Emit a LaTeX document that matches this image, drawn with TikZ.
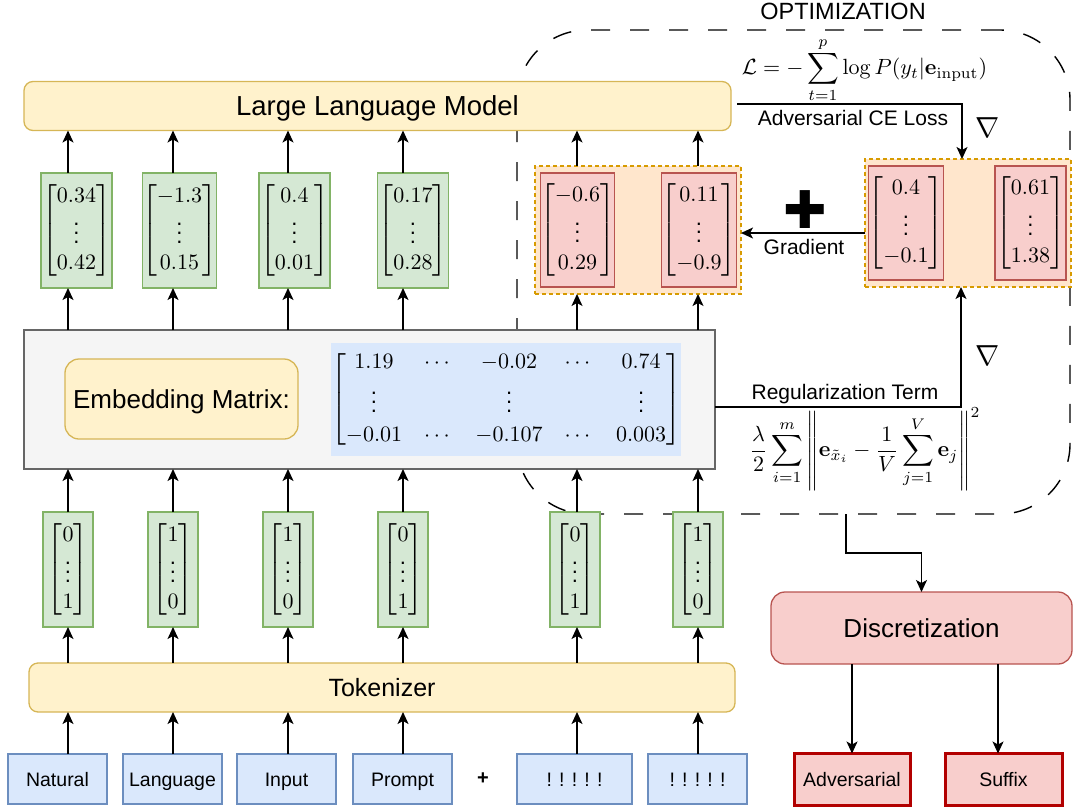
\documentclass[tikz,border=0pt]{standalone}
\usepackage[no-math]{fontspec}
\setmainfont{Liberation Sans}
\newfontfamily\dejavu{DejaVu Sans}
\usepackage{amsmath}
\usepackage{graphicx}
\usetikzlibrary{arrows.meta,calc}
\definecolor{yfill}{HTML}{FFF2CC}
\definecolor{ystroke}{HTML}{D6B656}
\definecolor{gfill}{HTML}{D5E8D4}
\definecolor{gstroke}{HTML}{82B366}
\definecolor{bfill}{HTML}{DAE8FC}
\definecolor{bstroke}{HTML}{6C8EBF}
\definecolor{rfill}{HTML}{F8CECC}
\definecolor{rstroke}{HTML}{B85450}
\definecolor{ofill}{HTML}{FFE6CC}
\definecolor{ostroke}{HTML}{D79B00}
\definecolor{efill}{HTML}{F5F5F5}
\definecolor{estroke}{HTML}{666666}
\definecolor{darkred}{HTML}{B20000}
\newcommand{\mv}[2]{\scalebox{2.2}{$\begin{bmatrix}#1\\ \vdots\\ #2\end{bmatrix}$}}
\newcommand{\fs}[1]{\fontsize{#1}{#1}\selectfont}
\begin{document}
\begin{tikzpicture}[x=1pt,y=-1pt,
  every node/.style={inner sep=0pt, outer sep=0pt},
  arr/.style={-{Stealth[length=12pt,width=11pt,inset=3pt]}, line width=1.3pt, black},
  ybox/.style={draw=ystroke, fill=yfill, line width=1.3pt, rounded corners=9pt},
  gvec/.style={draw=gstroke, fill=gfill, line width=1.3pt, minimum width=71pt, minimum height=115pt},
  ghot/.style={draw=gstroke, fill=gfill, line width=1.3pt, minimum width=50pt, minimum height=115pt},
  rvec/.style={draw=rstroke, fill=rfill, line width=1.3pt, minimum width=71pt, minimum height=114pt},
  ocont/.style={draw=ostroke, fill=ofill, line width=1.3pt, dash pattern=on 4pt off 3pt, minimum width=206pt, minimum height=128pt},
  inbox/.style={draw=bstroke, fill=bfill, line width=1.3pt, minimum height=50pt, font=\fs{19.5}, text height=14pt, text depth=0pt},
  outbox/.style={draw=darkred, fill=rfill, line width=3pt, minimum height=52pt, font=\fs{19.5}, text height=14pt, text depth=0pt},
  lbl/.style={font=\fs{21}, text height=15pt, text depth=0pt}
]
\useasboundingbox (0,0) rectangle (1073,809);

% optimization region
\node[draw, line width=1.4pt, dash pattern=on 19pt off 20pt, rounded corners=70pt,
      minimum width=553pt, minimum height=484pt] (opt) at (793.5,272) {};
\node[font=\fs{23.5}, text height=17pt, text depth=0pt] (optlbl) at (843,11) {OPTIMIZATION};

% column coordinates
\coordinate (c1) at (68,0);
\coordinate (c2) at (173,0);
\coordinate (c3) at (288,0);
\coordinate (c4) at (403,0);
\coordinate (c5) at (577,0);
\coordinate (c6) at (698,0);

% LLM
\node[ybox, minimum width=707pt, minimum height=49pt, font=\fs{27.5}, text height=19.7pt, text depth=0pt] (llm) at (377.5,106) {Large Language Model};

% top vectors
\node[gvec] (tv1) at (76.5,230.5) {\mv{0.34}{0.42}};
\node[gvec] (tv2) at (179.5,230.5) {\mv{-1.3}{0.15}};
\node[gvec] (tv3) at (294.5,230.5) {\mv{0.4}{0.01}};
\node[gvec] (tv4) at (413,230.5) {\mv{0.17}{0.28}};

% orange containers
\node[ocont] (orl) at (638,230) {};
\node[rvec] (rv1) at (577.5,230) {\mv{-0.6}{0.29}};
\node[rvec] (rv2) at (699,230) {\mv{0.11}{-0.9}};
\node[ocont] (orr) at (968,223) {};
\node[rvec] (rv3) at (906,223) {\mv{0.4}{-0.1}};
\node[rvec] (rv4) at (1030.5,223) {\mv{0.61}{1.38}};

% embedding
\node[draw=estroke, fill=efill, line width=1.3pt, minimum width=691pt, minimum height=139pt] (emb) at (369.5,399.5) {};
\node[ybox, rounded corners=14pt, minimum width=233pt, minimum height=80pt, font=\fs{26}, text height=18.6pt, text depth=0pt] (emblbl) at (181.5,399) {Embedding Matrix:};
\node[fill=bfill, minimum width=346pt, minimum height=113pt] (mat) at (506,399.5)
  {\scalebox{2.2}{$\begin{bmatrix} 1.19 & \cdots & -0.02 & \cdots & 0.74\\[1.2pt] \vdots & & \vdots & & \vdots\\[1.2pt] -0.01 & \cdots & -0.107 & \cdots & 0.003 \end{bmatrix}$}};

% one-hot vectors
\node[ghot] (h1) at (68,569.5) {\mv{0}{1}};
\node[ghot] (h2) at (173,569.5) {\mv{1}{0}};
\node[ghot] (h3) at (288,569.5) {\mv{1}{0}};
\node[ghot] (h4) at (403,569.5) {\mv{0}{1}};
\node[ghot] (h5) at (575,569.5) {\mv{0}{1}};
\node[ghot] (h6) at (698,569.5) {\mv{1}{0}};

% tokenizer
\node[ybox, minimum width=706pt, minimum height=49pt, font=\fs{25}, text height=18pt, text depth=0pt] (tok) at (382,687.5) {Tokenizer};

% inputs
\node[inbox, minimum width=99pt] (i1) at (57.5,779) {Natural};
\node[inbox, minimum width=99pt] (i2) at (172.5,779) {Language};
\node[inbox, minimum width=99pt] (i3) at (286.5,779) {Input};
\node[inbox, minimum width=99pt] (i4) at (402.5,779) {Prompt};
\node[font=\fs{20}\bfseries] (plus) at (483,779) {+};
\node[inbox, minimum width=115pt] (i5) at (574.5,779) {! ! ! ! !};
\node[inbox, minimum width=99pt] (i6) at (697.5,779) {! ! ! ! !};

% discretization
\node[draw=rstroke, fill=rfill, line width=1.3pt, rounded corners=14pt, minimum width=301pt, minimum height=72pt, font=\fs{26}, text height=18.6pt, text depth=0pt] (disc) at (921.5,628) {Discretization};
\node[outbox, minimum width=116pt] (adv) at (852,779.5) {Adversarial};
\node[outbox, minimum width=117pt] (suf) at (1003.5,779.5) {Suffix};

% arrows: inputs -> tokenizer -> one-hot -> embedding
\foreach \i/\c in {1/c1,2/c2,3/c3,4/c4,5/c5,6/c6}{
  \draw[arr] (\c |- i\i.north) -- (\c |- tok.south);
  \draw[arr] (\c |- tok.north) -- (\c |- h\i.south);
  \draw[arr] (\c |- h\i.north) -- (\c |- emb.south);
}
\foreach \i/\c in {1/c1,2/c2,3/c3,4/c4}{
  \draw[arr] (\c |- emb.north) -- (\c |- tv\i.south);
  \draw[arr] (\c |- tv\i.north) -- (\c |- llm.south);
}
\draw[arr] (c5 |- emb.north) -- (c5 |- orl.south);
\draw[arr] (c6 |- emb.north) -- (c6 |- orl.south);
\draw[arr] (c5 |- orl.north) -- (c5 |- llm.south);
\draw[arr] (c6 |- orl.north) -- (c6 |- llm.south);

% loss
\coordinate (lossx) at (962,104);
\draw[arr] ($(llm.east |- lossx)+(6,0)$) -- (lossx) -- (lossx |- orr.north);
\node (lform) at (864.5,70) {\scalebox{2.2}{$\displaystyle \mathcal{L} = -\sum_{t=1}^{p} \log P(y_t|\mathbf{e}_{\mathrm{input}})$}};
\node[lbl] (cel) at (853,118) {Adversarial CE Loss};
\node (nab1) at (988,128) {\scalebox{2.9}{$\nabla$}};

% gradient
\coordinate (gy) at (0,233);
\draw[arr] (orr.west |- gy) -- (orl.east |- gy);
\node[font=\fs{52}\dejavu] (bplus) at (805,210) {✚};
\node[lbl] (grad) at (804,247) {Gradient};

% regularization
\coordinate (regx) at (961,407);
\draw[arr] (emb.east |- regx) -- (regx) -- (regx |- orr.south);
\node[lbl] (regl) at (845,392) {Regularization Term};
\node (rform) at (865,449) {\scalebox{2.2}{$\displaystyle \frac{\lambda}{2}\sum_{i=1}^{m}\left\|\mathbf{e}_{\tilde{x}_i}-\frac{1}{V}\sum_{j=1}^{V}\mathbf{e}_j\right\|^2$}};
\node (nab2) at (988,356) {\scalebox{2.9}{$\nabla$}};

% discretization path
\coordinate (bend) at (846,553);
\draw[arr] (opt.south -| bend) -- (bend) -| (disc.north);
\draw[arr] (disc.south -| adv.north) -- (adv.north);
\coordinate (sx) at (998,0);
\draw[arr] (sx |- disc.south) -- (sx |- suf.north);
\end{tikzpicture}
\end{document}
